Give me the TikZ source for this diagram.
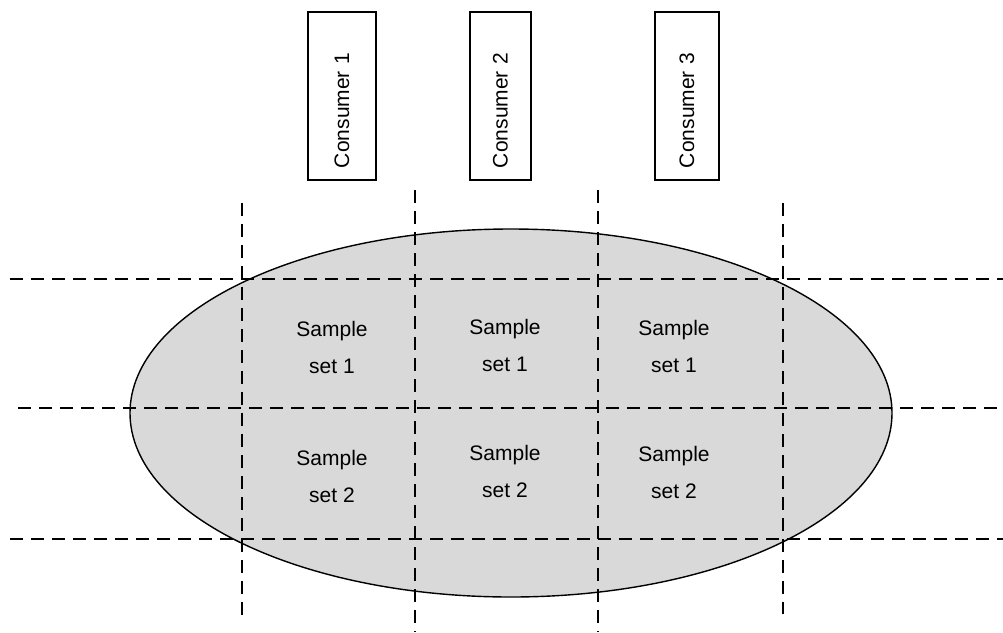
\documentclass[tikz,border=0pt]{standalone}
\usepackage{fontspec}
\setmainfont{Liberation Sans}
\usetikzlibrary{shapes.geometric}
\begin{document}
\begin{tikzpicture}[x=1pt,y=-1pt,
  grid/.style={line width=1.4pt,dash pattern=on 13pt off 8pt},
  consumer/.style={draw,line width=1.2pt,minimum width=168pt,minimum height=63pt,rotate=90,
    inner xsep=12pt,inner ysep=0pt,text width=144pt,align=left,font=\fontsize{21}{24}\selectfont},
  cell/.style={align=center,font=\fontsize{21}{37}\selectfont}]
\useasboundingbox (0,0) rectangle (1003,632);
% ellipse
\node[ellipse,draw,fill=black!15,line width=1.4pt,minimum width=762pt,minimum height=368pt,inner sep=0pt] (pool) at (511,413) {};
% vertical dashed lines
\draw[grid] (242,203) -- (242,618);
\draw[grid] (415,190) -- (415,632);
\draw[grid] (598,190) -- (598,632);
\draw[grid] (783,203) -- (783,614);
% horizontal dashed lines
\draw[grid] (10,279) -- (1003,279);
\draw[grid] (18,408) -- (1003,408);
\draw[grid] (10,539) -- (1003,539);
% consumers
\node[consumer,minimum height=68pt] (c1) at (342,96) {Consumer 1};
\node[consumer,minimum height=61pt] (c2) at (500.5,96) {Consumer 2};
\node[consumer,minimum height=64pt] (c3) at (687,96) {Consumer 3};
% cells
\node[cell] (s11) at (332,347) {Sample\\set 1};
\node[cell] (s12) at (505,345) {Sample\\set 1};
\node[cell] (s13) at (674,346) {Sample\\set 1};
\node[cell] (s21) at (332,476) {Sample\\set 2};
\node[cell] (s22) at (505,471) {Sample\\set 2};
\node[cell] (s23) at (674,472) {Sample\\set 2};
\end{tikzpicture}
\end{document}
